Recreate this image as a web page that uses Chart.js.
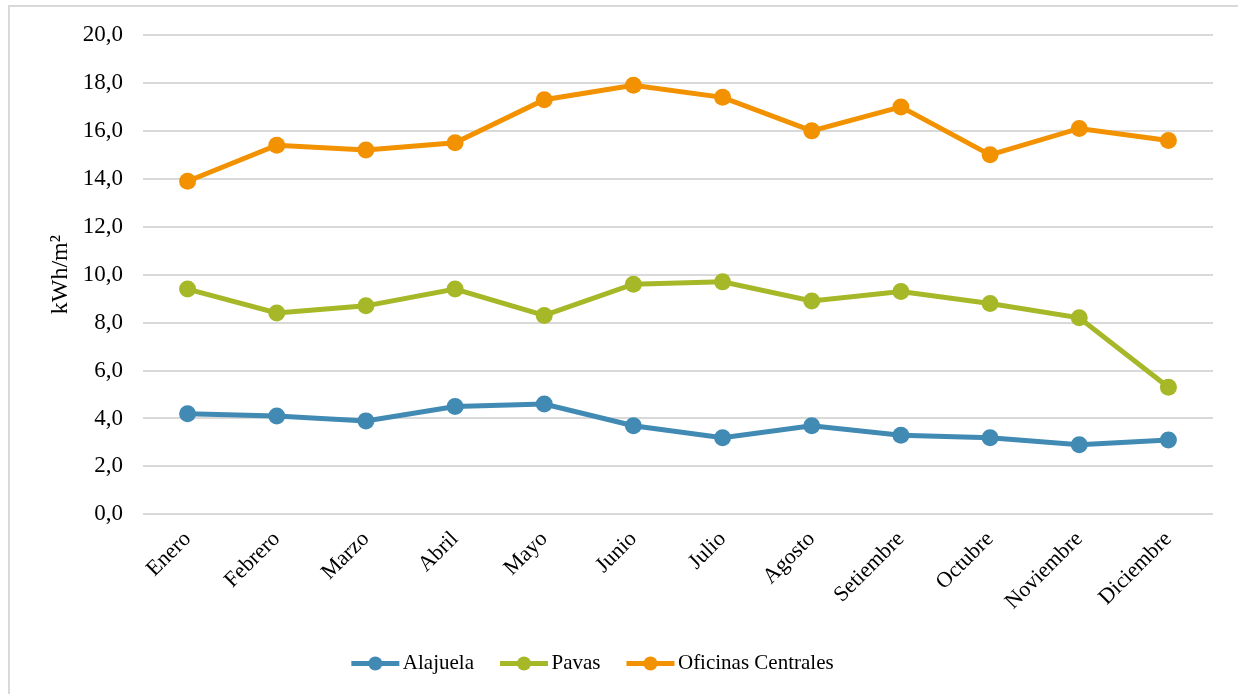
<!DOCTYPE html>
<html lang="es">
<head>
   <meta charset="UTF-8">
   <title>Consumo por m2</title>
   <script src="https://cdn.jsdelivr.net/npm/chart.js"></script>
   <style>
      body {
         margin: 0;
         padding: 0;
         background: #fff;
         font-family: "Liberation Serif", "Times New Roman", serif;
      }
      .frame {
         position: absolute;
         left: 8px;
         top: 5px;
         width: 1240px;
         height: 700px;
         border: 2px solid #d9d9d9;
         box-sizing: border-box;
      }
      .chart-box {
         position: absolute;
         left: 0;
         top: 0;
         width: 1238px;
         height: 694px;
      }
   </style>
</head>
<body>
   <div class="frame"></div>
   <div class="chart-box">
      <canvas id="kwhChart"></canvas>
   </div>

   <script>
      // Meses y valores mensuales (kWh/m2) por sede
      const months = ["Enero", "Febrero", "Marzo", "Abril", "Mayo", "Junio", "Julio", "Agosto", "Setiembre", "Octubre", "Noviembre", "Diciembre"];
      const alajuela = [4.2, 4.1, 3.9, 4.5, 4.6, 3.7, 3.2, 3.7, 3.3, 3.2, 2.9, 3.1];
      const pavas = [9.4, 8.4, 8.7, 9.4, 8.3, 9.6, 9.7, 8.9, 9.3, 8.8, 8.2, 5.3];
      const oficinas = [13.9, 15.4, 15.2, 15.5, 17.3, 17.9, 17.4, 16.0, 17.0, 15.0, 16.1, 15.6];
      const yTicks = [0, 2, 4, 6, 8, 10, 12, 14, 16, 18, 20];

      const serif = "'Liberation Serif', 'Times New Roman', serif";
      const legendLine = 48;

      function series(label, values, color) {
         return {
            label: label,
            data: values,
            borderColor: color,
            backgroundColor: color,
            borderWidth: 5,
            pointRadius: 8.5,
            pointHoverRadius: 8.5,
            pointBorderWidth: 0,
            tension: 0
         };
      }

      new Chart(document.getElementById("kwhChart"), {
         type: "line",
         data: {
            labels: months,
            datasets: [
               series("Alajuela", alajuela, "#418ab3"),
               series("Pavas", pavas, "#a6b727"),
               series("Oficinas Centrales", oficinas, "#f39200")
            ]
         },
         options: {
            responsive: true,
            maintainAspectRatio: false,
            animation: false,
            layout: { padding: { left: 46, right: 25, top: 35, bottom: 10 } },
            plugins: {
               tooltip: { enabled: false },
               legend: {
                  position: "bottom",
                  labels: {
                     font: { family: serif, size: 21 },
                     color: "#000",
                     boxWidth: 41,
                     boxHeight: 0,
                     padding: 26,
                     generateLabels: chart => chart.data.datasets.map((ds, i) => ({
                        text: ds.label,
                        fillStyle: "rgba(0,0,0,0)",
                        strokeStyle: "rgba(0,0,0,0)",
                        lineWidth: 0,
                        datasetIndex: i,
                        hidden: false
                     }))
                  }
               }
            },
            scales: {
               x: {
                  offset: true,
                  grid: { display: false, drawTicks: false },
                  border: { display: false },
                  ticks: {
                     font: { family: serif, size: 22 },
                     color: "#000",
                     maxRotation: 45,
                     minRotation: 45,
                     padding: 12
                  }
               },
               y: {
                  min: 0,
                  max: 20,
                  afterBuildTicks: axis => { axis.ticks = yTicks.map(v => ({ value: v })); },
                  afterFit: axis => { axis.width = 97; },
                  grid: { color: "#d9d9d9", lineWidth: 2, drawTicks: false },
                  border: { display: false },
                  title: {
                     display: true,
                     text: "kWh/m²",
                     font: { family: serif, size: 24 },
                     color: "#000",
                     padding: 0
                  },
                  ticks: {
                     font: { family: serif, size: 23 },
                     color: "#000",
                     padding: 20,
                     callback: v => v.toFixed(1).replace(".", ",")
                  }
               }
            }
         },
         plugins: [{
            // Desplaza la leyenda y dibuja cada muestra como línea con círculo
            id: "legendMarkers",
            afterLayout(chart) {
               const legend = chart.legend;
               if (!legend) return;
               legend.left -= 37;
               legend.right -= 37;
            },
            afterDraw(chart) {
               const legend = chart.legend;
               if (!legend || !legend.legendHitBoxes) return;
               const ctx = chart.ctx;
               legend.legendHitBoxes.forEach((box, i) => {
                  const color = chart.data.datasets[i].borderColor;
                  const y = box.top + box.height / 2;
                  const x0 = box.left;
                  const x1 = box.left + legendLine;
                  ctx.save();
                  ctx.strokeStyle = color;
                  ctx.fillStyle = color;
                  ctx.lineWidth = 5;
                  ctx.lineCap = "butt";
                  ctx.beginPath();
                  ctx.moveTo(x0, y);
                  ctx.lineTo(x1, y);
                  ctx.stroke();
                  ctx.beginPath();
                  ctx.arc((x0 + x1) / 2, y, 7, 0, Math.PI * 2);
                  ctx.fill();
                  ctx.restore();
               });
            }
         }]
      });
   </script>
</body>
</html>
